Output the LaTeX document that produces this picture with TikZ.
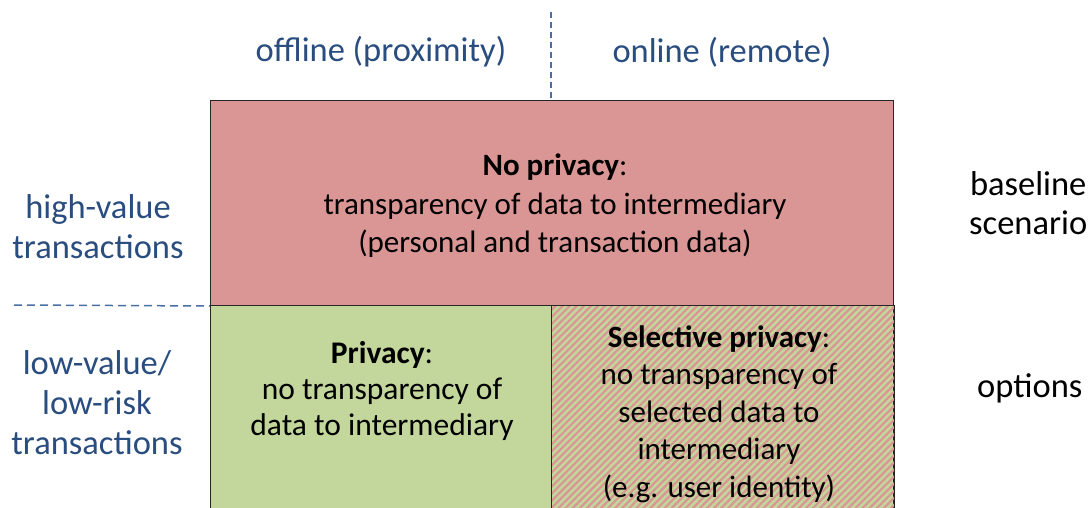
\documentclass[tikz,border=0pt]{standalone}
\usepackage{fontspec}
\setmainfont{Carlito}
\usetikzlibrary{patterns.meta}
\definecolor{hdr}{HTML}{2A4D7F}
\definecolor{dash}{HTML}{4A6FA5}
\definecolor{redf}{HTML}{D99694}
\definecolor{greenf}{HTML}{C3D69B}
\definecolor{stripe}{HTML}{D99694}
\tikzset{
  box/.style={draw=black!85, line width=1pt, inner sep=0pt, anchor=north west},
  hdrtext/.style={text=hdr, font=\fontsize{34.5}{40}\selectfont, align=center, inner sep=0pt},
  bodytext/.style={text=black, font=\fontsize{31}{38.5}\selectfont, align=center, inner sep=0pt},
  sidetext/.style={text=black, font=\fontsize{34.5}{39}\selectfont, align=center, inner sep=0pt},
  sep/.style={draw=dash, line width=1.5pt, dash pattern=on 6pt off 4pt},
}
\begin{document}
\begin{tikzpicture}[x=1pt,y=-1pt]
\useasboundingbox (0,0) rectangle (1090,508);
% boxes
\node[box, fill=redf, minimum width=683pt, minimum height=205pt] (red) at (210,100) {};
\node[box, fill=greenf, minimum width=341pt, minimum height=210pt] (green) at (210,305) {};
\node[box, fill=greenf, minimum width=342pt, minimum height=210pt] (sel) at (551,305) {};
\path[pattern={Lines[angle=45,distance=5pt,line width=2.2pt]}, pattern color=stripe]
  (sel.north west) rectangle (sel.south east);
\draw[black!85, line width=1pt] (sel.north west) rectangle (sel.south east);
% separators
\coordinate (vtop) at (551,12);
\coordinate (hleft) at (14,305);
\draw[sep] (vtop) -- (vtop |- red.north);
\draw[sep, dash pattern=on 8pt off 5pt] (hleft) -- (red.south west);
% headers
\node[hdrtext] (off) at (381,52) {offline (proximity)};
\node[hdrtext] (on) at (722,52) {online (remote)};
\node[hdrtext] (hv) at (98,227) {high-value\\transactions};
\node[hdrtext] (lv) at (97,403) {low-value/\\low-risk\\transactions};
% side labels
\node[sidetext, anchor=west] (base) at (969,203) {baseline\\scenario};
\node[sidetext, anchor=west] (opt) at (977,388) {options};
% box texts
\node[bodytext] (redt) at (555,206) {\textbf{No privacy}:\\transparency of data to intermediary\\(personal and transaction data)};
\node[bodytext, font=\fontsize{31.5}{36}\selectfont] (greent) at (382,391) {\textbf{Privacy}:\\no transparency of\\data to intermediary};
\node[bodytext, font=\fontsize{31}{37.5}\selectfont] (selt) at (719,414) {\textbf{Selective privacy}:\\no transparency of\\selected data to\\intermediary\\(e.g. user identity)};
\end{tikzpicture}
\end{document}
